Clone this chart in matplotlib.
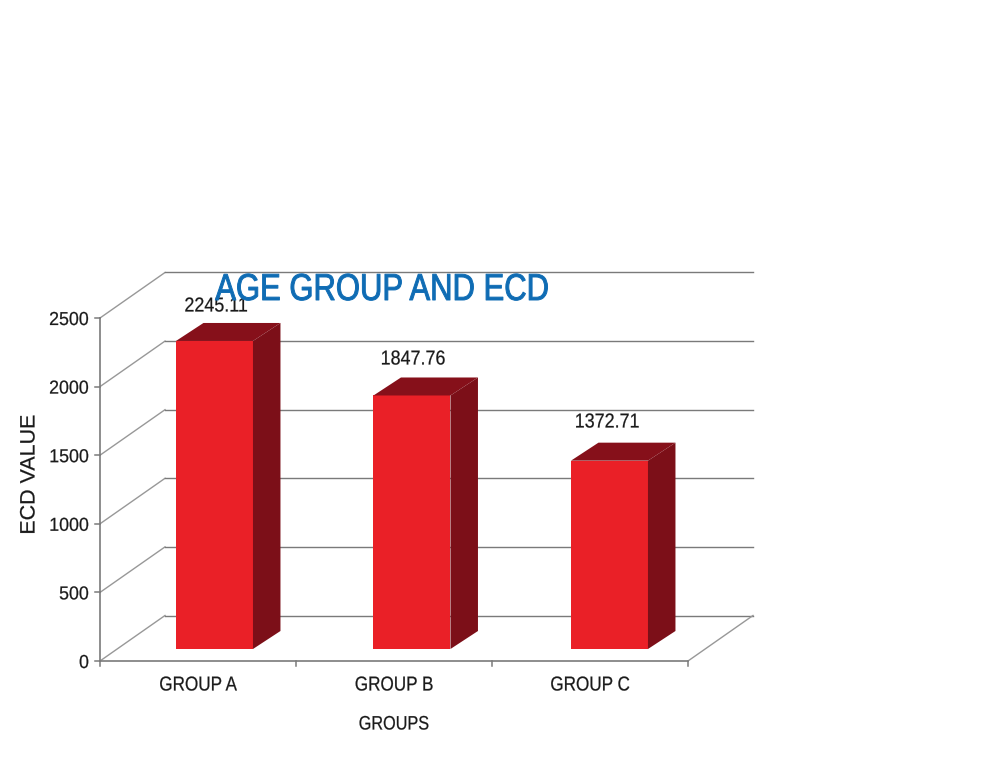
import matplotlib
matplotlib.use('Agg')
import matplotlib.pyplot as plt
from matplotlib.patches import Polygon
from matplotlib.patheffects import AbstractPathEffect
from matplotlib.transforms import Affine2D

groups = ['GROUP A', 'GROUP B', 'GROUP C']
ecd_values = [2245.11, 1847.76, 1372.71]
y_ticks = [0, 500, 1000, 1500, 2000, 2500]

plt.rcParams['font.family'] = ['Liberation Sans', 'DejaVu Sans']

W, H = 1000, 758
fig = plt.figure(figsize=(W / 100, H / 100), dpi=100)


# the chart uses a condensed face, so squeeze the glyphs around their anchor
class Squeeze(AbstractPathEffect):
    def __init__(self, px, py, sx, sy, stroke=0.0):
        super().__init__()
        self.px, self.py, self.sx, self.sy, self.stroke = px, py, sx, sy, stroke

    def draw_path(self, renderer, gc, tpath, affine, rgbFace=None):
        t = Affine2D().translate(-self.px, -self.py).scale(self.sx, self.sy).translate(self.px, self.py)
        gc0 = renderer.new_gc()
        gc0.copy_properties(gc)
        gc0.set_linewidth(self.stroke)
        if self.stroke > 0 and rgbFace is not None:
            gc0.set_foreground(rgbFace)
        renderer.draw_path(gc0, tpath, affine + t, rgbFace)
        gc0.restore()


def put_text(x, y, s, size, sx=1.0, sy=1.0, color='#1a1a1a', ha='center', rotation=0, zorder=6, stroke=0.15):
    t = fig.text(x / W, 1 - y / H, s, ha=ha, va='center', fontsize=size, color=color, rotation=rotation, zorder=zorder)
    t.set_path_effects([Squeeze(x, H - y, sx, sy, stroke)])
    return t


# front plane of the chart, in pixels: x 100-688, y 318-661
ax = fig.add_axes([100 / W, 1 - 661 / H, 588 / W, 343 / H])
ax.set_xlim(-0.5, 2.5)
ax.set_ylim(0, 2500)
ax.axis('off')

px_x = 3 / 588
px_y = 2500 / 343
line_col = '#7a7a7a'
slant_col = '#989898'

# wall depth
wall_dx = 65 * px_x
wall_dy = 45.5 * px_y

# gridlines, back wall and slanted side wall
for v in y_ticks:
    ax.plot([-0.5, -0.5 + wall_dx], [v, v + wall_dy], color=slant_col, lw=1.0, clip_on=False, zorder=1)
    ax.plot([-0.5 + wall_dx, 2.5 + wall_dx], [v + wall_dy, v + wall_dy], color=line_col, lw=1.0, clip_on=False, zorder=1)

# floor
ax.plot([-0.5, 2.5], [0, 0], color=line_col, lw=1.2, clip_on=False, zorder=1)
ax.plot([2.5, 2.5 + wall_dx], [0, wall_dy], color=slant_col, lw=1.0, clip_on=False, zorder=1)

# axis line and ticks
ax.plot([-0.5, -0.5], [0, 2500], color=line_col, lw=1.2, clip_on=False, zorder=1)
for v in y_ticks:
    ax.plot([-0.5 - 5 * px_x, -0.5], [v, v], color=line_col, lw=1.1, clip_on=False, zorder=1)
    put_text(89, 661 - v / px_y + 2.5, str(v), 13.5, sx=0.95, ha='right')
for b in [-0.5, 0.5, 1.5, 2.5]:
    ax.plot([b, b], [0, -5 * px_y], color=line_col, lw=1.1, clip_on=False, zorder=1)

# bars with top and side faces
bar_w = 77 * px_x
bar_dx = 27.5 * px_x
bar_dy = 18 * px_y
base = 12 * px_y
for i, val in enumerate(ecd_values):
    center = 0.084 + i * 197.5 / 196
    left = center - bar_w / 2
    right = left + bar_w
    top = base + val
    ax.bar(center, val, bar_w, bottom=base, color='#ea2027', zorder=3)
    ax.add_patch(Polygon([(left, top), (right, top), (right + bar_dx, top + bar_dy), (left + bar_dx, top + bar_dy)],
                         closed=True, facecolor='#86101a', edgecolor='none', zorder=3))
    ax.add_patch(Polygon([(right, base), (right + bar_dx, base + bar_dy), (right + bar_dx, top + bar_dy), (right, top)],
                         closed=True, facecolor='#7c0f18', edgecolor='none', zorder=3))

# value labels
label_x = [216, 413, 607]
label_y = [306, 359, 422]
for s, lx, ly in zip(ecd_values, label_x, label_y):
    put_text(lx, ly, '%.2f' % s, 14.5, sx=0.89)

# category labels
for name, lx in zip(groups, [198, 394, 590]):
    put_text(lx, 685, name, 14.5, sx=0.85)

put_text(394, 725, 'GROUPS', 14, sx=0.835)
put_text(29, 474.5, 'ECD VALUE', 15, sy=1.03, rotation=90)
put_text(382, 290, 'AGE GROUP AND ECD', 27, sx=0.827, color='#0f6cb4', zorder=7, stroke=0.7)

fig.savefig('out.png', dpi=100, facecolor='white')
